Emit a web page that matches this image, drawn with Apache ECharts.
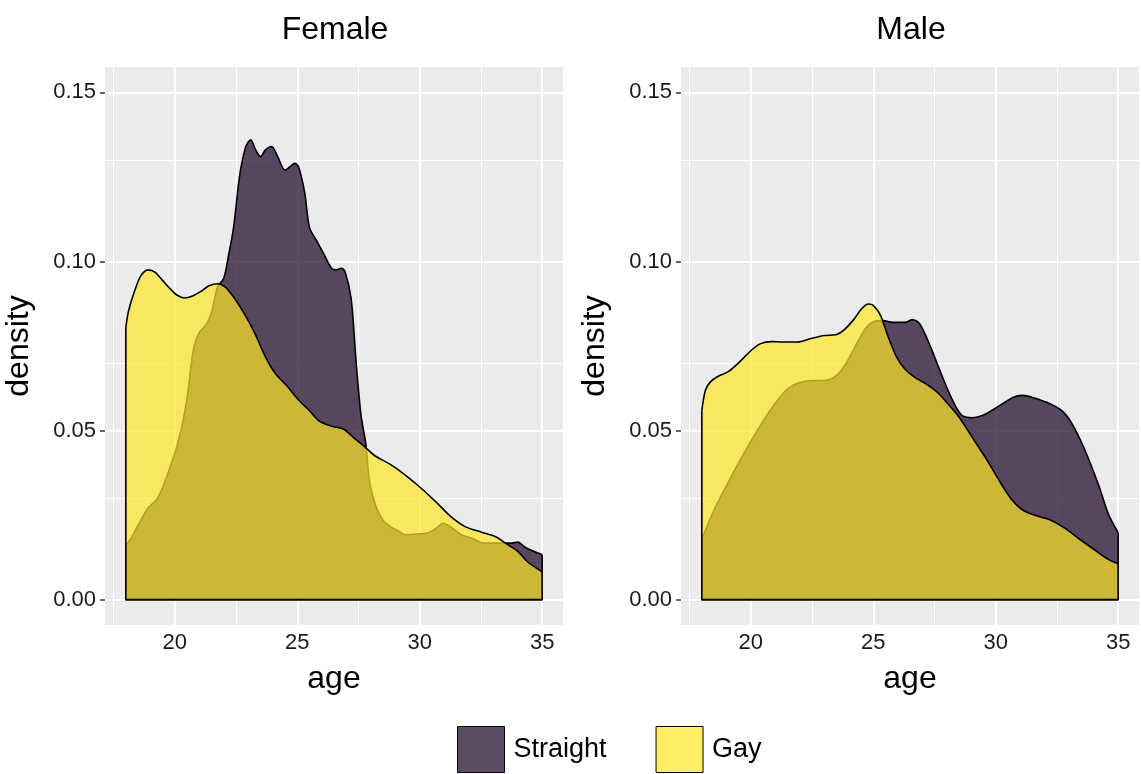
<!DOCTYPE html>
<html><head><meta charset="utf-8">
<script src="https://cdn.jsdelivr.net/npm/echarts@6/dist/echarts.min.js"></script>
<style>html,body{margin:0;padding:0;background:#fff}#c{width:1141px;height:774px}</style>
</head><body><div id="c"></div>
<script>
const panels = ['Female', 'Male'];
const groups = ['Straight', 'Gay'];
const xMajor = [20, 25, 30, 35];
const xMinor = [17.5, 22.5, 27.5, 32.5];
const yMajor = [0, 0.05, 0.10, 0.15];
const yMinor = [0.025, 0.075, 0.125];

const femaleStraight = [[18.0,0.0161],[18.2,0.018],[18.5,0.022],[18.9,0.027],[19.3,0.030],[19.8,0.039],[20.2,0.0485],[20.5,0.0595],[20.76,0.074],[21.0,0.079],[21.3,0.0815],[21.5,0.085],[21.75,0.0925],[22.0,0.095],[22.2,0.102],[22.4,0.110],[22.65,0.1255],[22.9,0.134],[23.1,0.136],[23.3,0.133],[23.5,0.131],[23.7,0.133],[23.95,0.134],[24.2,0.131],[24.5,0.127],[24.7,0.128],[24.9,0.129],[25.05,0.128],[25.3,0.1205],[25.5,0.110],[25.8,0.106],[26.1,0.102],[26.4,0.098],[26.6,0.0975],[26.8,0.098],[26.95,0.097],[27.2,0.089],[27.4,0.0705],[27.6,0.0547],[27.8,0.046],[27.95,0.035],[28.2,0.0278],[28.5,0.0235],[28.8,0.0216],[29.1,0.0204],[29.4,0.0192],[29.9,0.0194],[30.35,0.0198],[30.65,0.021],[30.95,0.0226],[31.25,0.0216],[31.7,0.0192],[32.2,0.018],[32.6,0.0167],[33.2,0.0167],[33.7,0.0167],[34.0,0.017],[34.3,0.0155],[34.65,0.0143],[35.0,0.0133]];
const femaleGay = [[18.0,0.0803],[18.1,0.085],[18.3,0.090],[18.6,0.0956],[18.9,0.0975],[19.2,0.0968],[19.5,0.0944],[19.8,0.092],[20.1,0.090],[20.4,0.0892],[20.7,0.0897],[21.1,0.0913],[21.4,0.0928],[21.75,0.0934],[22.05,0.0925],[22.35,0.090],[22.8,0.085],[23.25,0.079],[23.7,0.0718],[24.1,0.0669],[24.6,0.063],[25.0,0.0595],[25.5,0.0559],[25.9,0.0528],[26.4,0.0513],[26.9,0.0504],[27.3,0.0479],[27.8,0.0449],[28.2,0.0424],[28.8,0.040],[29.4,0.0369],[30.0,0.0333],[30.65,0.029],[31.25,0.0247],[31.85,0.0216],[32.5,0.020],[33.1,0.0186],[33.5,0.0167],[34.0,0.0143],[34.4,0.0112],[35.0,0.0082]];
const maleStraight = [[18.0,0.018],[18.5,0.0265],[19.1,0.035],[19.7,0.043],[20.3,0.0504],[20.9,0.0571],[21.45,0.062],[21.9,0.064],[22.5,0.0648],[23.0,0.0648],[23.5,0.0663],[23.9,0.070],[24.4,0.0767],[24.7,0.0803],[25.0,0.0822],[25.4,0.0825],[25.8,0.082],[26.3,0.082],[26.6,0.0828],[26.9,0.0815],[27.3,0.0754],[27.7,0.0681],[28.2,0.0595],[28.6,0.0546],[29.05,0.0538],[29.5,0.0546],[30.1,0.0571],[30.7,0.0598],[31.1,0.0604],[31.5,0.0598],[32.1,0.0583],[32.7,0.0559],[33.1,0.0522],[33.6,0.0449],[34.2,0.0339],[34.6,0.0253],[35.0,0.0198]];
const maleGay = [[18.0,0.0559],[18.15,0.062],[18.35,0.0644],[18.65,0.066],[19.1,0.0675],[19.5,0.070],[20.0,0.0736],[20.4,0.0757],[20.85,0.0763],[21.3,0.0762],[21.9,0.0762],[22.5,0.0773],[23.0,0.0781],[23.5,0.0784],[23.8,0.0797],[24.2,0.0828],[24.5,0.0858],[24.8,0.0874],[25.0,0.087],[25.3,0.084],[25.6,0.0779],[25.95,0.0718],[26.3,0.0681],[26.7,0.0657],[27.15,0.0638],[27.6,0.0614],[28.0,0.0583],[28.5,0.054],[29.05,0.0479],[29.65,0.0412],[30.2,0.0345],[30.65,0.0296],[31.1,0.0265],[31.7,0.0247],[32.25,0.0235],[32.85,0.021],[33.4,0.018],[34.0,0.0149],[34.6,0.0119],[35.0,0.0106]];

const panelData = [[femaleStraight, femaleGay], [maleStraight, maleGay]];
const fills = ['rgba(30,6,40,0.72)', 'rgba(253,231,37,0.7)'];
const FONT = 'Liberation Sans, Arial, Helvetica, sans-serif';
const gridLefts = [105, 681];

const grids = [], xAxes = [], yAxes = [], series = [], titles = [];
panels.forEach((p, i) => {
  grids.push({left: gridLefts[i], top: 67, width: 458, height: 558, show: true, backgroundColor: '#EBEBEB', borderWidth: 0});
  titles.push({text: p, left: gridLefts[i] + 225, top: 9, textAlign: 'center',
    textStyle: {fontFamily: FONT, fontSize: 32, fontWeight: 'normal', color: '#000'}});
  xAxes.push({type: 'value', gridIndex: i, min: 17.15, max: 35.85,
    name: 'age', nameLocation: 'middle', nameGap: 38,
    nameTextStyle: {fontFamily: FONT, fontSize: 32, color: '#000'},
    axisLine: {show: false}, splitLine: {show: false},
    axisTick: {show: true, customValues: xMajor, length: 5, lineStyle: {color: '#333', width: 1.5}},
    axisLabel: {customValues: xMajor, fontFamily: FONT, fontSize: 22, color: '#1a1a1a', margin: 7}});
  yAxes.push({type: 'value', gridIndex: i, min: -0.0075, max: 0.1575,
    name: 'density', nameLocation: 'middle', nameGap: 70,
    nameTextStyle: {fontFamily: FONT, fontSize: 32, color: '#000'},
    axisLine: {show: false}, splitLine: {show: false},
    axisTick: {show: true, customValues: yMajor, length: 5, lineStyle: {color: '#333', width: 1.5}},
    axisLabel: {customValues: yMajor, fontFamily: FONT, fontSize: 22, color: '#1a1a1a', margin: 9,
      formatter: v => v.toFixed(2)}});
  // panel grid lines (drawn beneath the density areas)
  const ml = [];
  xMinor.forEach(v => ml.push({xAxis: v, lineStyle: {width: 1}}));
  yMinor.forEach(v => ml.push({yAxis: v, lineStyle: {width: 1}}));
  xMajor.forEach(v => ml.push({xAxis: v, lineStyle: {width: 2}}));
  yMajor.forEach(v => ml.push({yAxis: v, lineStyle: {width: 2}}));
  series.push({type: 'line', name: 'grid' + i, xAxisIndex: i, yAxisIndex: i, z: 1,
    data: [[18, 0]], showSymbol: false, lineStyle: {opacity: 0}, silent: true,
    markLine: {silent: true, z: 1, symbol: ['none', 'none'], label: {show: false}, animation: false,
      lineStyle: {color: '#ffffff', type: 'solid', width: 2}, emphasis: {disabled: true}, data: ml}});
  groups.forEach((g, k) => {
    const d = panelData[i][k];
    series.push({type: 'line', name: g, xAxisIndex: i, yAxisIndex: i, z: 10 + k * 2,
      data: d, smooth: 0.3, showSymbol: false, symbol: 'none',
      itemStyle: {color: fills[k]},
      lineStyle: {color: '#000', width: 1.6},
      areaStyle: {color: fills[k], opacity: 1, origin: 0}});
    series.push({type: 'line', name: g + ' outline', xAxisIndex: i, yAxisIndex: i, z: 11 + k * 2,
      data: [d[0], [d[0][0], 0], [d[d.length - 1][0], 0], d[d.length - 1]],
      showSymbol: false, symbol: 'none', lineStyle: {color: '#000', width: 1.6}});
  });
});

const chart = echarts.init(document.getElementById('c'), null, {renderer: 'canvas'});
chart.setOption({
  animation: false,
  backgroundColor: '#ffffff',
  title: titles,
  grid: grids,
  xAxis: xAxes,
  yAxis: yAxes,
  legend: {
    left: 457, top: 726, padding: 0, orient: 'horizontal', itemWidth: 47, itemHeight: 46, itemGap: 49,
    textStyle: {fontFamily: FONT, fontSize: 27, color: '#000', padding: [0, 0, 0, 4]},
    data: [
      {name: 'Straight', icon: 'rect', itemStyle: {color: fills[0], borderColor: '#000', borderWidth: 1}},
      {name: 'Gay', icon: 'rect', itemStyle: {color: fills[1], borderColor: '#000', borderWidth: 1}}
    ]
  },
  series: series
});
</script></body></html>
